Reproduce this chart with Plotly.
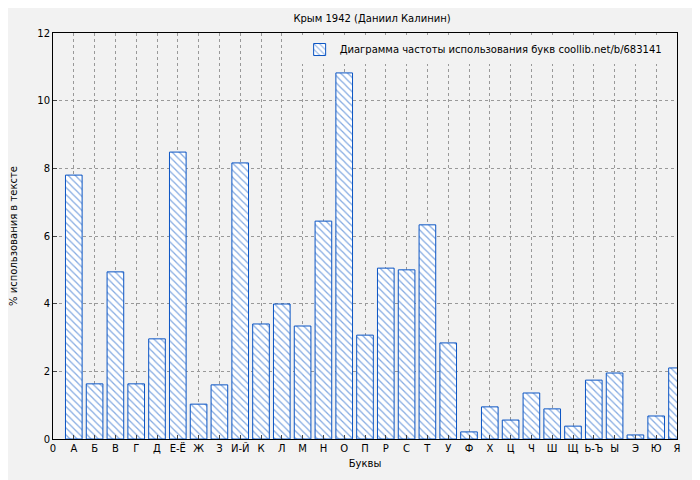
import plotly.graph_objects as go

letters = ["0", "А", "Б", "В", "Г", "Д", "Е-Ё", "Ж", "З", "И-Й", "К", "Л", "М", "Н", "О", "П",
           "Р", "С", "Т", "У", "Ф", "Х", "Ц", "Ч", "Ш", "Щ", "Ь-Ъ", "Ы", "Э", "Ю", "Я"]
freq = [7.80, 1.63, 4.94, 1.63, 2.96, 8.48, 1.03, 1.60, 8.16, 3.40, 3.99, 3.34, 6.44, 10.82, 3.07,
        5.05, 5.00, 6.33, 2.84, 0.21, 0.95, 0.56, 1.36, 0.89, 0.38, 1.74, 1.95, 0.12, 0.68, 2.10]

positions = list(range(1, len(freq) + 1))
blue = "#0b55c4"

fig = go.Figure()
fig.add_trace(go.Bar(
    x=positions, y=freq, width=0.8,
    name="Диаграмма частоты использования букв coollib.net/b/683141",
    marker=dict(color="white", line=dict(color=blue, width=1),
                pattern=dict(shape="\\", fgcolor=blue, bgcolor="white", size=5, solidity=0.25)),
))

axis_common = dict(showline=True, mirror=True, linecolor="black", linewidth=1,
                   showgrid=True, gridcolor="#999999", griddash="dot", gridwidth=1,
                   ticks="inside", ticklen=4, zeroline=False, automargin=False,
                   tickfont=dict(size=10, color="black"))

fig.update_layout(
    width=700, height=480,
    paper_bgcolor="#f2f2f2", plot_bgcolor="#f2f2f2",
    font=dict(family="DejaVu Sans", size=10, color="black"),
    title=dict(text="Крым 1942 (Даниил Калинин)", x=0.52, y=0.985, font=dict(size=10)),
    margin=dict(l=45, r=31, t=25, b=49),
    showlegend=True,
    legend=dict(x=0.985, y=0.995, xanchor="right", yanchor="top",
                bgcolor="#f2f2f2", font=dict(size=10)),
    bargap=0.2,
)
fig.update_xaxes(axis_common, range=[0, 30], tickmode="array",
                 tickvals=list(range(0, 31)), ticktext=letters,
                 title=dict(text="Буквы", font=dict(size=10), standoff=6))
fig.update_yaxes(axis_common, range=[0, 12], dtick=2,
                 title=dict(text="% использования в тексте", font=dict(size=10), standoff=22))

fig.write_html("out.html")
